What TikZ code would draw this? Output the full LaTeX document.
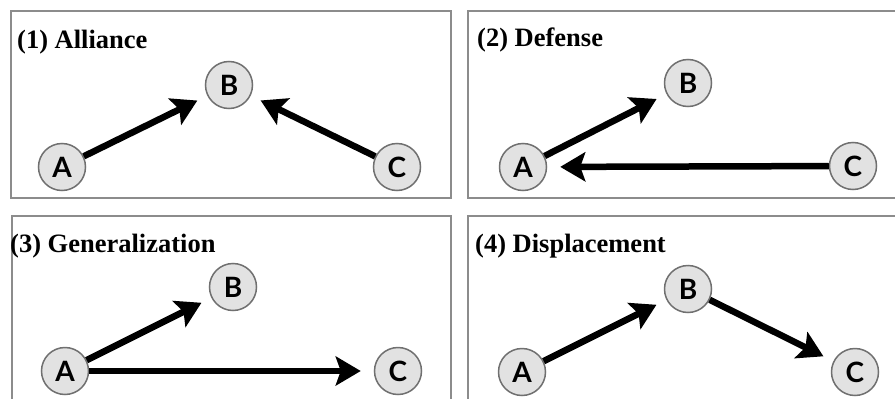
\documentclass[tikz,border=0pt]{standalone}
\usepackage{fontspec}
\setmainfont{Liberation Serif}
\newfontfamily\agentfont{Lato}
\usetikzlibrary{arrows.meta,
    positioning}

\definecolor{agentfill}{HTML}{E2E2E2}
\definecolor{agentline}{HTML}{707070}
\definecolor{panelline}{HTML}{8C8C8C}

\tikzset{
    agent/.style={circle, draw=agentline, line width=1.5pt, fill=agentfill,
        minimum size=47pt, inner sep=0pt,
        font=\agentfont\bfseries\fontsize{28}{28}\selectfont},
    move/.style={line width=6.5pt,
        -{Stealth[length=25pt,width=29pt,inset=5pt]}, shorten >=11pt},
    panel/.style={draw=panelline, line width=2.4pt},
    heading/.style={anchor=base west, inner sep=0pt,
        font=\bfseries\fontsize{26.5}{28}\selectfont}
}

\begin{document}
\begin{tikzpicture}[x=1pt,y=-1pt]
    \useasboundingbox (0,0) rectangle (895,399);
    \clip (0,0) rectangle (895,399);
    \fill[white] (0,0) rectangle (895,399);

    % panels
    \draw[panel] (11,11) rectangle (451,198);
    \draw[panel] (468,11) rectangle (910,198);
    \draw[panel] (12,216) rectangle (451,420);
    \draw[panel] (468,216) rectangle (910,420);

    % (1) Alliance
    \node[heading] (t1) at (17,48) {(1) Alliance};
    \node[agent] (a1) at (62,167) {A};
    \node[agent] (b1) at (229,85) {B};
    \node[agent] (c1) at (397,167) {C};
    \draw[move] (a1) -- (b1);
    \draw[move] (c1) -- (b1);

    % (2) Defense
    \node[heading] (t2) at (477,46) {(2) Defense};
    \node[agent] (a2) at (523,167) {A};
    \node[agent] (b2) at (688,83) {B};
    \node[agent] (c2) at (853,166) {C};
    \draw[move] (a2) -- (b2);
    \draw[move, shorten >=13pt] (c2) -- (a2);

    % (3) Generalization
    \node[heading] (t3) at (10,252) {(3) Generalization};
    \node[agent] (a3) at (65,371) {A};
    \node[agent] (b3) at (233,287) {B};
    \node[agent] (c3) at (398,371) {C};
    \draw[move] (a3) -- (b3);
    \draw[move, shorten >=13pt] (a3) -- (c3);

    % (4) Displacement
    \node[heading] (t4) at (475,252) {(4) Displacement};
    \node[agent] (a4) at (522,372) {A};
    \node[agent] (b4) at (688,289) {B};
    \node[agent] (c4) at (855,372) {C};
    \draw[move] (a4) -- (b4);
    \draw[move] (b4) -- (c4);
\end{tikzpicture}
\end{document}
